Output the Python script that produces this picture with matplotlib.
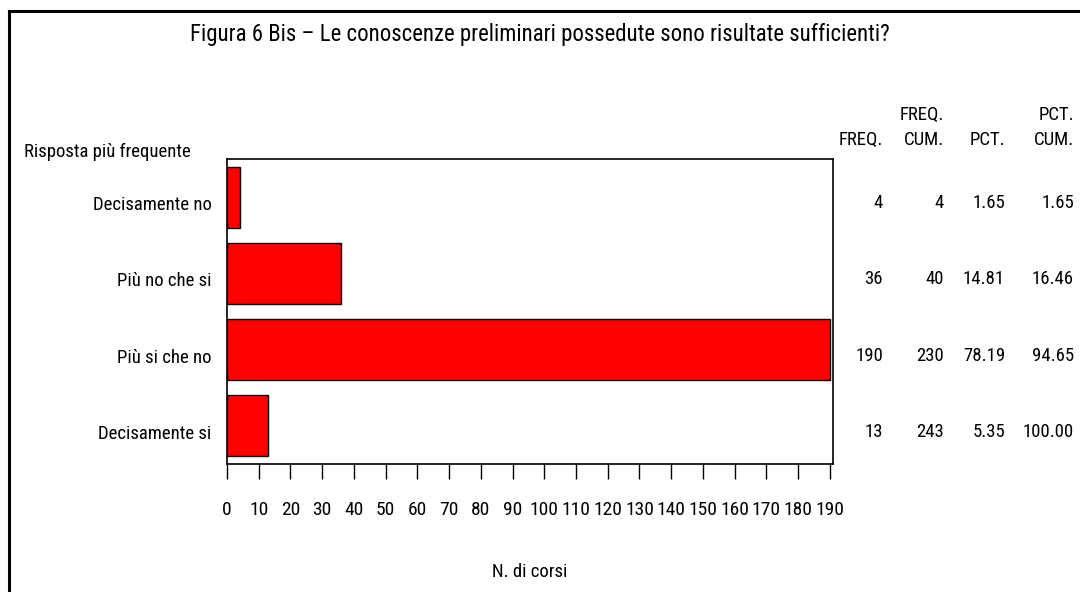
import matplotlib
matplotlib.use("Agg")
import matplotlib.pyplot as plt
from matplotlib.lines import Line2D
from matplotlib.transforms import ScaledTranslation, blended_transform_factory

# data
risposte = ["Decisamente no", "Più no che si", "Più si che no", "Decisamente si"]
freq = [4, 36, 190, 13]
freq_cum = [4, 40, 230, 243]
pct = [1.65, 14.81, 78.19, 5.35]
pct_cum = [1.65, 16.46, 94.65, 100.00]
x_ticks = list(range(0, 200, 10))

titolo = "Figura 6 Bis \u2013 Le conoscenze preliminari possedute sono risultate sufficienti?"

W, H = 1080, 592
FONT = ["Roboto Condensed", "DejaVu Sans"]
plt.rcParams["font.family"] = FONT
plt.rcParams["font.stretch"] = "condensed"

fig = plt.figure(figsize=(W / 100, H / 100), dpi=100)
fig.patch.set_facecolor("white")


def fx(px):
    return px / W


def fy(py):
    return 1 - py / H


# outer frame (top and left edge only, rest is cut off)
fig.add_artist(Line2D([fx(9), 1.0], [fy(11), fy(11)], color="black", lw=2.2))
fig.add_artist(Line2D([fx(9), fx(9)], [fy(11), 0.0], color="black", lw=2.2))

ax = fig.add_axes([fx(227), fy(464), fx(833) - fx(227), fy(159) - fy(464)])

ypos = list(range(len(risposte)))
ax.barh(ypos, freq, height=0.8, color="#ff0000", edgecolor="black", linewidth=1.0)
ax.set_ylim(len(risposte) - 0.5, -0.5)
ax.set_xlim(0, 191)

for s in ax.spines.values():
    s.set_color("black")
    s.set_linewidth(1.2)

txt_size = 13.5
down = ScaledTranslation(0, -6 / 100, fig.dpi_scale_trans)

ax.set_yticks(ypos)
ax.set_yticklabels(risposte, fontsize=txt_size)
ax.tick_params(axis="y", length=0, pad=11)
for lab in ax.get_yticklabels():
    lab.set_transform(lab.get_transform() + down)

ax.set_xticks(x_ticks)
ax.set_xticklabels([str(v) for v in x_ticks], fontsize=14)
ax.tick_params(axis="x", direction="out", length=10.5, width=1.0, pad=16)
ax.xaxis.set_ticks_position("bottom")
ax.set_xlabel("N. di corsi", fontsize=txt_size, labelpad=32)

# frequency table at the right
col_right = [883, 944, 1005, 1074]
tr = blended_transform_factory(fig.transFigure, ax.transData)
for i in ypos:
    vals = [str(freq[i]), str(freq_cum[i]), f"{pct[i]:.2f}", f"{pct_cum[i]:.2f}"]
    for xr, v in zip(col_right, vals):
        fig.text(fx(xr), i, v, transform=tr + down, ha="right", va="center",
                 fontsize=txt_size)

hdr_top = ["", "FREQ.", "", "PCT."]
hdr_bot = ["FREQ.", "CUM.", "PCT.", "CUM."]
for xr, a, b in zip(col_right, hdr_top, hdr_bot):
    if a:
        fig.text(fx(xr), fy(115), a, ha="right", va="center", fontsize=txt_size)
    fig.text(fx(xr), fy(140), b, ha="right", va="center", fontsize=txt_size)

fig.text(fx(24), fy(152), "Risposta più frequente", ha="left", va="center",
         fontsize=txt_size)

fig.text(fx(540), fy(35), titolo, ha="center", va="center", fontsize=16.4)

fig.savefig("out.png", dpi=100)
